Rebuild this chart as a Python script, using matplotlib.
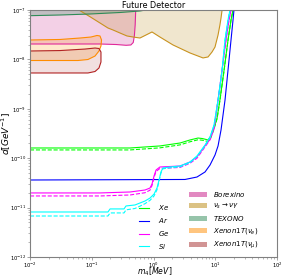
import matplotlib
matplotlib.use("Agg")
import matplotlib.pyplot as plt
from matplotlib.patches import Patch
from matplotlib.lines import Line2D

# ---- detector sensitivity curves (m4 in MeV, d in GeV^-1) ----
xe_m = [0.01, 0.416, 1.27, 2.69, 3.90, 5.26, 6.2, 7.64, 8.5, 9.55, 10.7, 11.9, 13.9, 16.1, 18.0, 19.4, 100]
xe_d = [1.61e-10, 1.61e-10, 1.77e-10, 2.03e-10, 2.34e-10, 2.56e-10, 2.5e-10, 2.34e-10, 2.81e-10,
        4.09e-10, 6.51e-10, 1.51e-9, 6.10e-9, 2.47e-8, 6.28e-8, 1e-7, 1e-7]
xe_d_dash = [1.47e-10, 1.47e-10, 1.62e-10, 1.86e-10, 2.15e-10, 2.36e-10, 2.31e-10, 2.17e-10, 2.6e-10,
             3.9e-10, 6.3e-10, 1.48e-9, 6.0e-9, 2.45e-8, 6.25e-8, 1e-7, 1e-7]

ar_m = [0.01, 3.24, 5.06, 6.83, 8.23, 9.91, 11.1, 12.4, 14.4, 16.1, 18.0, 19.4, 20.1, 100]
ar_d = [3.62e-11, 3.71e-11, 4.16e-11, 5.26e-11, 7.28e-11, 1.16e-10, 1.77e-10, 3.72e-10, 1.51e-9,
        6.10e-9, 2.47e-8, 6.28e-8, 1e-7, 1e-7]

ge_m = [0.01, 0.136, 0.416, 0.728, 0.877, 0.946, 1.02, 1.10, 1.27, 2.69, 3.90, 5.06, 6.83, 8.23,
        9.55, 11.1, 12.9, 14.9, 16.7, 18.0, 100]
ge_d = [1.98e-11, 1.98e-11, 2.07e-11, 2.27e-11, 2.49e-11, 3.0e-11, 4.36e-11, 5.77e-11, 6.64e-11,
        6.95e-11, 8.38e-11, 1.06e-10, 1.77e-10, 2.45e-10, 4.09e-10, 1.51e-9, 6.1e-9, 2.47e-8,
        6.28e-8, 1e-7, 1e-7]
ge_d_dash = [1.72e-11, 1.72e-11, 1.80e-11, 2.0e-11, 2.25e-11, 2.8e-11, 4.1e-11, 5.4e-11, 6.2e-11,
             6.5e-11, 7.9e-11, 1.0e-10, 1.7e-10, 2.35e-10, 3.95e-10, 1.47e-9, 6.0e-9, 2.45e-8,
             6.25e-8, 1e-7, 1e-7]

si_m = [0.01, 0.183, 0.198, 0.333, 0.359, 0.501, 0.604, 0.728, 0.877, 1.02, 1.14, 1.23, 1.32, 1.42,
        1.85, 2.69, 3.90, 5.06, 6.83, 8.23, 9.55, 11.1, 12.9, 14.4, 16.1, 17.3, 100]
si_d = [8.15e-12, 8.15e-12, 9.4e-12, 9.4e-12, 1.08e-11, 1.13e-11, 1.24e-11, 1.36e-11, 1.56e-11,
        1.88e-11, 2.49e-11, 3.62e-11, 5.26e-11, 6.34e-11, 6.64e-11, 6.95e-11, 8.38e-11, 1.11e-10,
        1.85e-10, 2.69e-10, 4.70e-10, 1.51e-9, 6.1e-9, 2.47e-8, 6.28e-8, 1e-7, 1e-7]
si_d_dash = [6.76e-12, 6.76e-12, 7.8e-12, 7.8e-12, 9.0e-12, 9.6e-12, 1.07e-11, 1.2e-11, 1.4e-11,
             1.72e-11, 2.3e-11, 3.4e-11, 5.0e-11, 6.1e-11, 6.4e-11, 6.7e-11, 8.1e-11, 1.08e-10,
             1.8e-10, 2.6e-10, 4.6e-10, 1.48e-9, 6.0e-9, 2.45e-8, 6.25e-8, 1e-7, 1e-7]

# ---- existing limits (closed outlines / lower edges) ----
borex_m = [0.01, 0.01, 0.136, 0.25, 0.36, 0.43, 0.47, 0.49, 0.505, 0.515, 0.52]
borex_d = [1e-6, 2.05e-8, 2.05e-8, 2.0e-8, 1.93e-8, 1.96e-8, 2.2e-8, 3.0e-8, 5e-8, 1e-7, 1e-6]

decay_m = [0.055, 0.062, 0.0938, 0.136, 0.183, 0.221, 0.287, 0.372, 0.466, 0.604, 0.757, 0.946,
           1.27, 2.07, 3.90, 6.34, 7.64, 8.86, 9.91, 11.1, 11.9, 12.4, 12.9, 13.2]
decay_d = [1.3e-7, 1.0e-7, 7.3e-8, 5.46e-8, 4.32e-8, 3.94e-8, 3.42e-8, 2.98e-8, 2.84e-8, 2.71e-8,
           3.12e-8, 3.59e-8, 2.84e-8, 1.96e-8, 1.35e-8, 1.07e-8, 1.12e-8, 1.41e-8, 1.78e-8, 3.12e-8,
           4.97e-8, 6.89e-8, 1.0e-7, 1.3e-7]

texono_m = [0.01, 0.0306, 0.0938, 0.287, 0.604, 0.815, 1.85]
texono_d = [7.67e-8, 7.92e-8, 8.3e-8, 8.9e-8, 9.55e-8, 1.02e-7, 1.3e-7]

xen_e_m = [0.01, 0.0306, 0.0646, 0.0973, 0.1217, 0.136, 0.144, 0.141, 0.131, 0.113, 0.0869, 0.0598, 0.01]
xen_e_d = [2.47e-8, 2.53e-8, 2.71e-8, 2.84e-8, 3.05e-8, 2.98e-8, 2.47e-8, 1.87e-8, 1.48e-8, 1.17e-8,
           9.95e-9, 9.5e-9, 9.5e-9]

xen_mu_m = [0.01, 0.0306, 0.0778, 0.113, 0.131, 0.141, 0.141, 0.131, 0.113, 0.0869, 0.01]
xen_mu_d = [1.48e-8, 1.51e-8, 1.62e-8, 1.70e-8, 1.66e-8, 1.41e-8, 8.86e-9, 6.7e-9, 5.69e-9, 5.31e-9, 5.31e-9]

fig = plt.figure(figsize=(2.84, 2.77), dpi=100)
ax = fig.add_axes([30 / 284, 20 / 277, 247 / 284, 247 / 277])

# filled limits
ax.fill(borex_m, borex_d, facecolor="mediumvioletred", alpha=0.2, lw=0)
ax.plot(borex_m[1:], borex_d[1:], color="#e0289a", lw=0.8)
ax.fill_between(decay_m, decay_d, 1e-6, facecolor="darkgoldenrod", alpha=0.2, lw=0)
ax.plot(decay_m, decay_d, color="#c8921e", lw=0.8)
ax.fill_between(texono_m, texono_d, 1e-6, facecolor="seagreen", alpha=0.25, lw=0)
ax.plot(texono_m, texono_d, color="seagreen", lw=0.8)
ax.fill(xen_e_m, xen_e_d, facecolor="darkorange", alpha=0.2, lw=0)
ax.plot(xen_e_m, xen_e_d, color="darkorange", lw=0.8)
ax.fill(xen_mu_m, xen_mu_d, facecolor="brown", alpha=0.15, lw=0)
ax.plot(xen_mu_m, xen_mu_d, color="#b22222", lw=0.8)

# detector curves
ax.plot(xe_m, xe_d, color="lime", lw=0.8)
ax.plot(xe_m, xe_d_dash, color="lime", lw=0.8, ls="--")
ax.plot(ar_m, ar_d, color="blue", lw=0.8)
ax.plot(ge_m, ge_d, color="magenta", lw=0.8)
ax.plot(ge_m, ge_d_dash, color="magenta", lw=0.8, ls="--")
ax.plot(si_m, si_d, color="cyan", lw=0.8)
ax.plot(si_m, si_d_dash, color="cyan", lw=0.8, ls="--")

ax.set_xscale("log")
ax.set_yscale("log")
ax.set_xlim(1e-2, 1e2)
ax.set_ylim(1e-12, 1e-7)

for s in ax.spines.values():
    s.set_color("gray")
    s.set_linewidth(0.8)
ax.tick_params(which="major", labelsize=3.8, length=2.2, width=0.5, pad=0.6, color="gray")
ax.tick_params(axis="x", which="major", pad=0.3)
ax.tick_params(which="minor", length=1.2, width=0.4, color="gray")

ax.set_title("Future Detector", fontsize=5.8, pad=1.5)
ax.set_xlabel("$m_4[MeV]$", fontsize=5.6, va="center")
ax.set_ylabel("$d[GeV^{-1}]$", fontsize=6.5, va="center")
ax.xaxis.set_label_coords(0.505, -0.061)
ax.yaxis.set_label_coords(-0.097, 0.5)

line_handles = [Line2D([], [], color="lime", lw=0.8),
                Line2D([], [], color="blue", lw=0.8),
                Line2D([], [], color="magenta", lw=0.8),
                Line2D([], [], color="cyan", lw=0.8)]
leg1 = ax.legend(line_handles, ["$Xe$", "$Ar$", "$Ge$", "$Si$"], loc="lower left",
                 bbox_to_anchor=(0.415, 0.0), frameon=False, fontsize=5,
                 handlelength=1.5, labelspacing=0.55, handletextpad=1.3)
ax.add_artist(leg1)

patch_handles = [Patch(facecolor="mediumvioletred", alpha=0.5),
                 Patch(facecolor="darkgoldenrod", alpha=0.5),
                 Patch(facecolor="seagreen", alpha=0.5),
                 Patch(facecolor="darkorange", alpha=0.5),
                 Patch(facecolor="brown", alpha=0.5)]
ax.legend(patch_handles, ["$Borexino$", r"$\nu_s\rightarrow\nu\gamma$", "$TEXONO$",
                          r"$Xenon1T(\nu_e)$", r"$Xenon1T(\nu_\mu)$"],
          loc="lower left", bbox_to_anchor=(0.62, 0.0), frameon=False, fontsize=5,
          handlelength=2.6, labelspacing=0.45, handletextpad=0.8)

fig.savefig("out.png", dpi=100)
